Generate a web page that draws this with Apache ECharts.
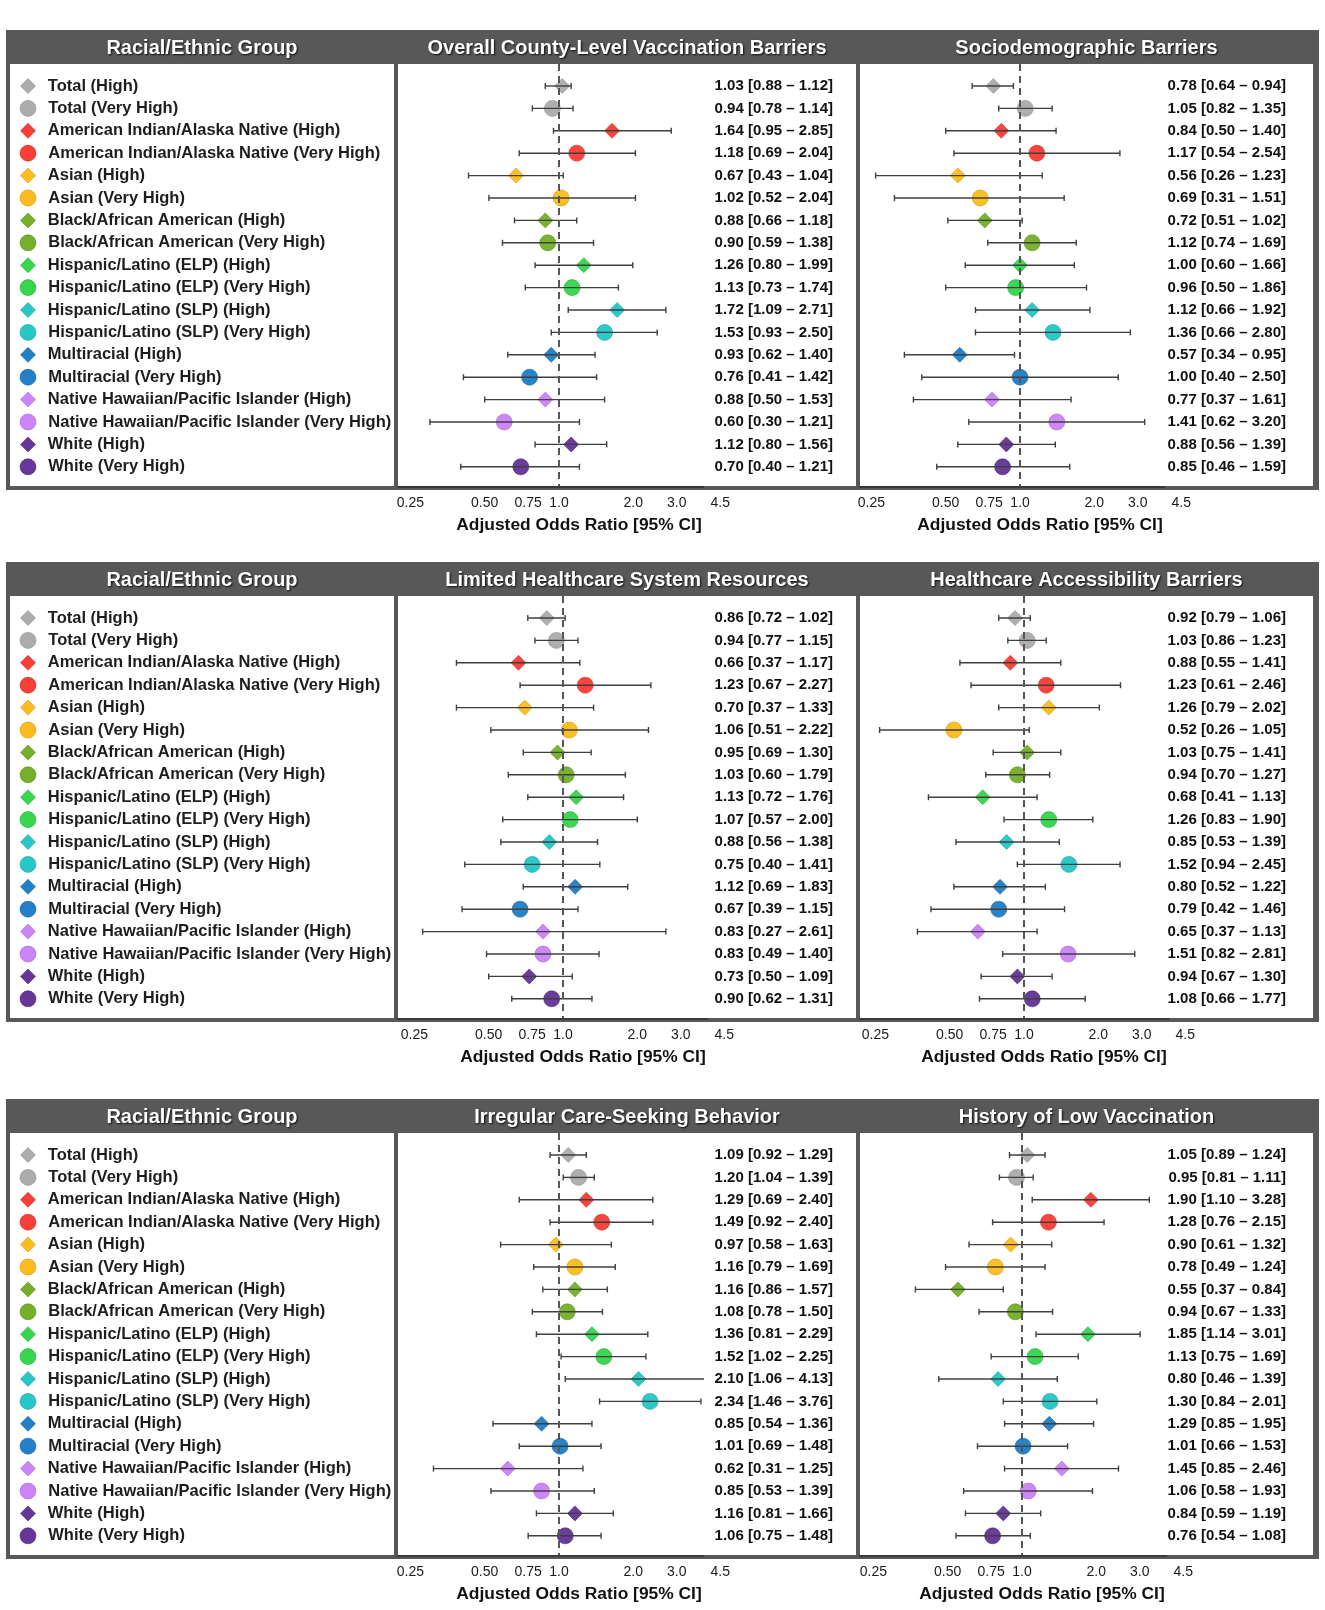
<!DOCTYPE html>
<html>
<head>
<meta charset="utf-8">
<script src="https://cdn.jsdelivr.net/npm/echarts@6/dist/echarts.min.js"></script>
<style>
html,body{margin:0;padding:0;background:#fff;}
#chart{width:1325px;height:1610px;}
</style>
</head>
<body>
<div id="chart"></div>
<script>
// ---------------- DATA ----------------
const groups = [
  'Total (High)', 'Total (Very High)',
  'American Indian/Alaska Native (High)', 'American Indian/Alaska Native (Very High)',
  'Asian (High)', 'Asian (Very High)',
  'Black/African American (High)', 'Black/African American (Very High)',
  'Hispanic/Latino (ELP) (High)', 'Hispanic/Latino (ELP) (Very High)',
  'Hispanic/Latino (SLP) (High)', 'Hispanic/Latino (SLP) (Very High)',
  'Multiracial (High)', 'Multiracial (Very High)',
  'Native Hawaiian/Pacific Islander (High)', 'Native Hawaiian/Pacific Islander (Very High)',
  'White (High)', 'White (Very High)'
];

const tickValues = [0.25, 0.5, 0.75, 1, 2, 3, 4.5];
const tickLabels = ['0.25', '0.50', '0.75', '1.0', '2.0', '3.0', '4.5'];
const axisTitle = 'Adjusted Odds Ratio [95% CI]';
const legendTitle = 'Racial/Ethnic Group';

// Overall County-Level Vaccination Barriers
const overallOR   = [1.03,0.94,1.64,1.18,0.67,1.02,0.88,0.90,1.26,1.13,1.72,1.53,0.93,0.76,0.88,0.60,1.12,0.70];
const overallLow  = [0.88,0.78,0.95,0.69,0.43,0.52,0.66,0.59,0.80,0.73,1.09,0.93,0.62,0.41,0.50,0.30,0.80,0.40];
const overallHigh = [1.12,1.14,2.85,2.04,1.04,2.04,1.18,1.38,1.99,1.74,2.71,2.50,1.40,1.42,1.53,1.21,1.56,1.21];

// Sociodemographic Barriers
const socioOR   = [0.78,1.05,0.84,1.17,0.56,0.69,0.72,1.12,1.00,0.96,1.12,1.36,0.57,1.00,0.77,1.41,0.88,0.85];
const socioLow  = [0.64,0.82,0.50,0.54,0.26,0.31,0.51,0.74,0.60,0.50,0.66,0.66,0.34,0.40,0.37,0.62,0.56,0.46];
const socioHigh = [0.94,1.35,1.40,2.54,1.23,1.51,1.02,1.69,1.66,1.86,1.92,2.80,0.95,2.50,1.61,3.20,1.39,1.59];

// Limited Healthcare System Resources
const resourcesOR   = [0.86,0.94,0.66,1.23,0.70,1.06,0.95,1.03,1.13,1.07,0.88,0.75,1.12,0.67,0.83,0.83,0.73,0.90];
const resourcesLow  = [0.72,0.77,0.37,0.67,0.37,0.51,0.69,0.60,0.72,0.57,0.56,0.40,0.69,0.39,0.27,0.49,0.50,0.62];
const resourcesHigh = [1.02,1.15,1.17,2.27,1.33,2.22,1.30,1.79,1.76,2.00,1.38,1.41,1.83,1.15,2.61,1.40,1.09,1.31];

// Healthcare Accessibility Barriers
const accessOR   = [0.92,1.03,0.88,1.23,1.26,0.52,1.03,0.94,0.68,1.26,0.85,1.52,0.80,0.79,0.65,1.51,0.94,1.08];
const accessLow  = [0.79,0.86,0.55,0.61,0.79,0.26,0.75,0.70,0.41,0.83,0.53,0.94,0.52,0.42,0.37,0.82,0.67,0.66];
const accessHigh = [1.06,1.23,1.41,2.46,2.02,1.05,1.41,1.27,1.13,1.90,1.39,2.45,1.22,1.46,1.13,2.81,1.30,1.77];

// Irregular Care-Seeking Behavior
const careOR   = [1.09,1.20,1.29,1.49,0.97,1.16,1.16,1.08,1.36,1.52,2.10,2.34,0.85,1.01,0.62,0.85,1.16,1.06];
const careLow  = [0.92,1.04,0.69,0.92,0.58,0.79,0.86,0.78,0.81,1.02,1.06,1.46,0.54,0.69,0.31,0.53,0.81,0.75];
const careHigh = [1.29,1.39,2.40,2.40,1.63,1.69,1.57,1.50,2.29,2.25,4.13,3.76,1.36,1.48,1.25,1.39,1.66,1.48];

// History of Low Vaccination
const historyOR   = [1.05,0.95,1.90,1.28,0.90,0.78,0.55,0.94,1.85,1.13,0.80,1.30,1.29,1.01,1.45,1.06,0.84,0.76];
const historyLow  = [0.89,0.81,1.10,0.76,0.61,0.49,0.37,0.67,1.14,0.75,0.46,0.84,0.85,0.66,0.85,0.58,0.59,0.54];
const historyHigh = [1.24,1.11,3.28,2.15,1.32,1.24,0.84,1.33,3.01,1.69,1.39,2.01,1.95,1.53,2.46,1.93,1.19,1.08];

const panels = [
  [{title:'Overall County-Level Vaccination Barriers', or:overallOR, lo:overallLow, hi:overallHigh},
   {title:'Sociodemographic Barriers', or:socioOR, lo:socioLow, hi:socioHigh}],
  [{title:'Limited Healthcare System Resources', or:resourcesOR, lo:resourcesLow, hi:resourcesHigh},
   {title:'Healthcare Accessibility Barriers', or:accessOR, lo:accessLow, hi:accessHigh}],
  [{title:'Irregular Care-Seeking Behavior', or:careOR, lo:careLow, hi:careHigh},
   {title:'History of Low Vaccination', or:historyOR, lo:historyLow, hi:historyHigh}]
];

// ---------------- STYLE / LAYOUT ----------------
const groupColors = ['#A8A8A8','#F8352C','#FDB813','#6FAC1F','#2CD444','#1CC3C3','#1778C4','#C97DF8','#5E2C93'];
const darken = ['#8a8a8a','#c8241d','#d09200','#548a12','#1ca834','#109c9c','#0f5c9a','#a45fd2','#41196f'];
const FONT = '"Liberation Sans", Arial, Helvetica, sans-serif';
const FRAME = '#585858';
const rowTop = [30, 562, 1099];
const oneX = [[559, 1020], [563, 1024], [559, 1022]];
const PPD = 74.3;             // pixels per doubling
const ROW0 = 56, ROWSTEP = 22.4, HEAD = 34, PANEL_BOTTOM = 456;
const panelX = [[398, 856, 833], [860, 1313, 1286]]; // left, right, text right edge
const log2 = v => Math.log(v) / Math.LN2;
const yMin = -(ROW0 - HEAD) / ROWSTEP;
const yMax = 17 + (PANEL_BOTTOM - (ROW0 + 17 * ROWSTEP)) / ROWSTEP;
const dataMaxX = log2(3.85);
const labelMaxX = log2(5);

const grid = [], xAxis = [], yAxis = [], series = [], graphic = [];
const idx = groups.map((_, i) => i);

rowTop.forEach((T, r) => {
  // frame and panel backgrounds
  graphic.push({type:'rect', z:-10, shape:{x:6, y:T, width:1313, height:PANEL_BOTTOM + 4}, style:{fill:FRAME}});
  graphic.push({type:'rect', z:-9, shape:{x:10, y:T + HEAD, width:384, height:PANEL_BOTTOM - HEAD}, style:{fill:'#fff'}});
  panelX.forEach(px => {
    graphic.push({type:'rect', z:-9, shape:{x:px[0], y:T + HEAD, width:px[1] - px[0], height:PANEL_BOTTOM - HEAD}, style:{fill:'#fff'}});
  });
  const headStyle = {fill:'#fff', font:'bold 20px ' + FONT, textAlign:'center', textVerticalAlign:'middle',
    textShadowColor:'rgba(0,0,0,0.85)', textShadowBlur:2, textShadowOffsetX:1, textShadowOffsetY:1};
  graphic.push({type:'text', z:50, x:202, y:T + 18, style:Object.assign({text:legendTitle}, headStyle)});

  // legend column grid
  const lg = grid.length;
  grid.push({left:20, width:16, top:T + HEAD, height:PANEL_BOTTOM - HEAD});
  xAxis.push({gridIndex:lg, type:'value', min:-1, max:1, show:false});
  yAxis.push({gridIndex:lg, type:'value', min:yMin, max:yMax, inverse:true, show:false});
  series.push({
    type:'scatter', xAxisIndex:xAxis.length - 1, yAxisIndex:yAxis.length - 1,
    data: idx.map(i => ({
      value:[0, i], symbol: i % 2 === 0 ? 'diamond' : 'circle', symbolSize: i % 2 === 0 ? 15 : 16,
      itemStyle:{color:groupColors[Math.floor(i / 2)], borderColor:darken[Math.floor(i / 2)], borderWidth:0.6, opacity:0.95},
      label:{show:true, position:'right', distance:12, formatter:groups[i], color:'#111',
             fontSize:16.5, fontWeight:'bold', fontFamily:FONT}
    })),
    silent:true, animation:false
  });

  panels[r].forEach((pd, p) => {
    const [L, R, textRight] = panelX[p];
    const x1 = oneX[r][p];
    const xMin = (L - x1) / PPD;
    const dataW = (dataMaxX - xMin) * PPD;
    graphic.push({type:'text', z:50, x:(L + R) / 2, y:T + 18, style:Object.assign({text:pd.title}, headStyle)});
    graphic.push({type:'text', z:50, x:x1 + 20, y:T + 495,
      style:{text:axisTitle, fill:'#111', font:'bold 17.4px ' + FONT, textAlign:'center', textVerticalAlign:'middle'}});

    // data grid
    const g = grid.length;
    grid.push({left:L, width:dataW, top:T + HEAD, height:PANEL_BOTTOM - HEAD});
    xAxis.push({gridIndex:g, type:'value', min:xMin, max:dataMaxX,
      axisLine:{show:true, onZero:false, lineStyle:{color:'#3a3a3a', width:2}}, offset:1,
      axisTick:{show:false}, axisLabel:{show:false}, splitLine:{show:false}});
    const xi = xAxis.length - 1;
    yAxis.push({gridIndex:g, type:'value', min:yMin, max:yMax, inverse:true, show:false});
    const yi = yAxis.length - 1;
    const texts = idx.map(i => `${pd.or[i].toFixed(2)} [${pd.lo[i].toFixed(2)} \u2013 ${pd.hi[i].toFixed(2)}]`);
    yAxis.push({gridIndex:g, type:'value', min:yMin, max:yMax, inverse:true, position:'right',
      axisLine:{show:false}, axisTick:{show:false}, splitLine:{show:false},
      axisLabel:{show:true, customValues:idx, formatter:v => texts[Math.round(v)] || '',
        align:'right', margin:textRight - (L + dataW), fontSize:15, fontWeight:'bold', color:'#111', fontFamily:FONT}});

    // markers
    series.push({
      type:'scatter', xAxisIndex:xi, yAxisIndex:yi, z:3,
      data: idx.map(i => ({
        value:[log2(pd.or[i]), i], symbol: i % 2 === 0 ? 'diamond' : 'circle', symbolSize: i % 2 === 0 ? 15 : 16,
        itemStyle:{color:groupColors[Math.floor(i / 2)], borderColor:darken[Math.floor(i / 2)], borderWidth:0.6, opacity:0.92}
      })),
      markLine:{silent:true, symbol:'none', label:{show:false},
        lineStyle:{color:'#555', width:2, type:[7, 5]}, data:[{xAxis:0}]},
      silent:true, animation:false
    });
    // error bars
    series.push({
      type:'custom', xAxisIndex:xi, yAxisIndex:yi, z:4, clip:true, silent:true, animation:false,
      data: idx.map(i => [log2(pd.or[i]), i, log2(pd.lo[i]), log2(pd.hi[i])]),
      renderItem:(params, api) => {
        const y = api.value(1);
        const a = api.coord([api.value(2), y]);
        const b = api.coord([api.value(3), y]);
        const st = {stroke:'#3f3f3f', lineWidth:1.4};
        const h = 3;
        return {type:'group', children:[
          {type:'line', shape:{x1:a[0], y1:a[1], x2:b[0], y2:b[1]}, style:st},
          {type:'line', shape:{x1:a[0], y1:a[1] - h, x2:a[0], y2:a[1] + h}, style:st},
          {type:'line', shape:{x1:b[0], y1:b[1] - h, x2:b[0], y2:b[1] + h}, style:st}
        ]};
      }
    });

    // tick label grid
    const lgIdx = grid.length;
    grid.push({left:L, width:(labelMaxX - xMin) * PPD, top:T + PANEL_BOTTOM - 8, height:10});
    xAxis.push({gridIndex:lgIdx, type:'value', min:xMin, max:labelMaxX,
      axisLine:{show:false}, axisTick:{show:false}, splitLine:{show:false},
      axisLabel:{show:true, customValues:tickValues.map(log2), margin:8, fontSize:14, color:'#1a1a1a', fontFamily:FONT,
        formatter:v => { const k = tickValues.findIndex(t => Math.abs(log2(t) - v) < 1e-6); return k >= 0 ? tickLabels[k] : ''; }}});
    yAxis.push({gridIndex:lgIdx, type:'value', show:false});
  });
});

const chart = echarts.init(document.getElementById('chart'), null, {renderer:'canvas'});
chart.setOption({
  animation:false,
  backgroundColor:'#fff',
  textStyle:{fontFamily:FONT},
  grid, xAxis, yAxis, series, graphic
});
</script>
</body>
</html>
